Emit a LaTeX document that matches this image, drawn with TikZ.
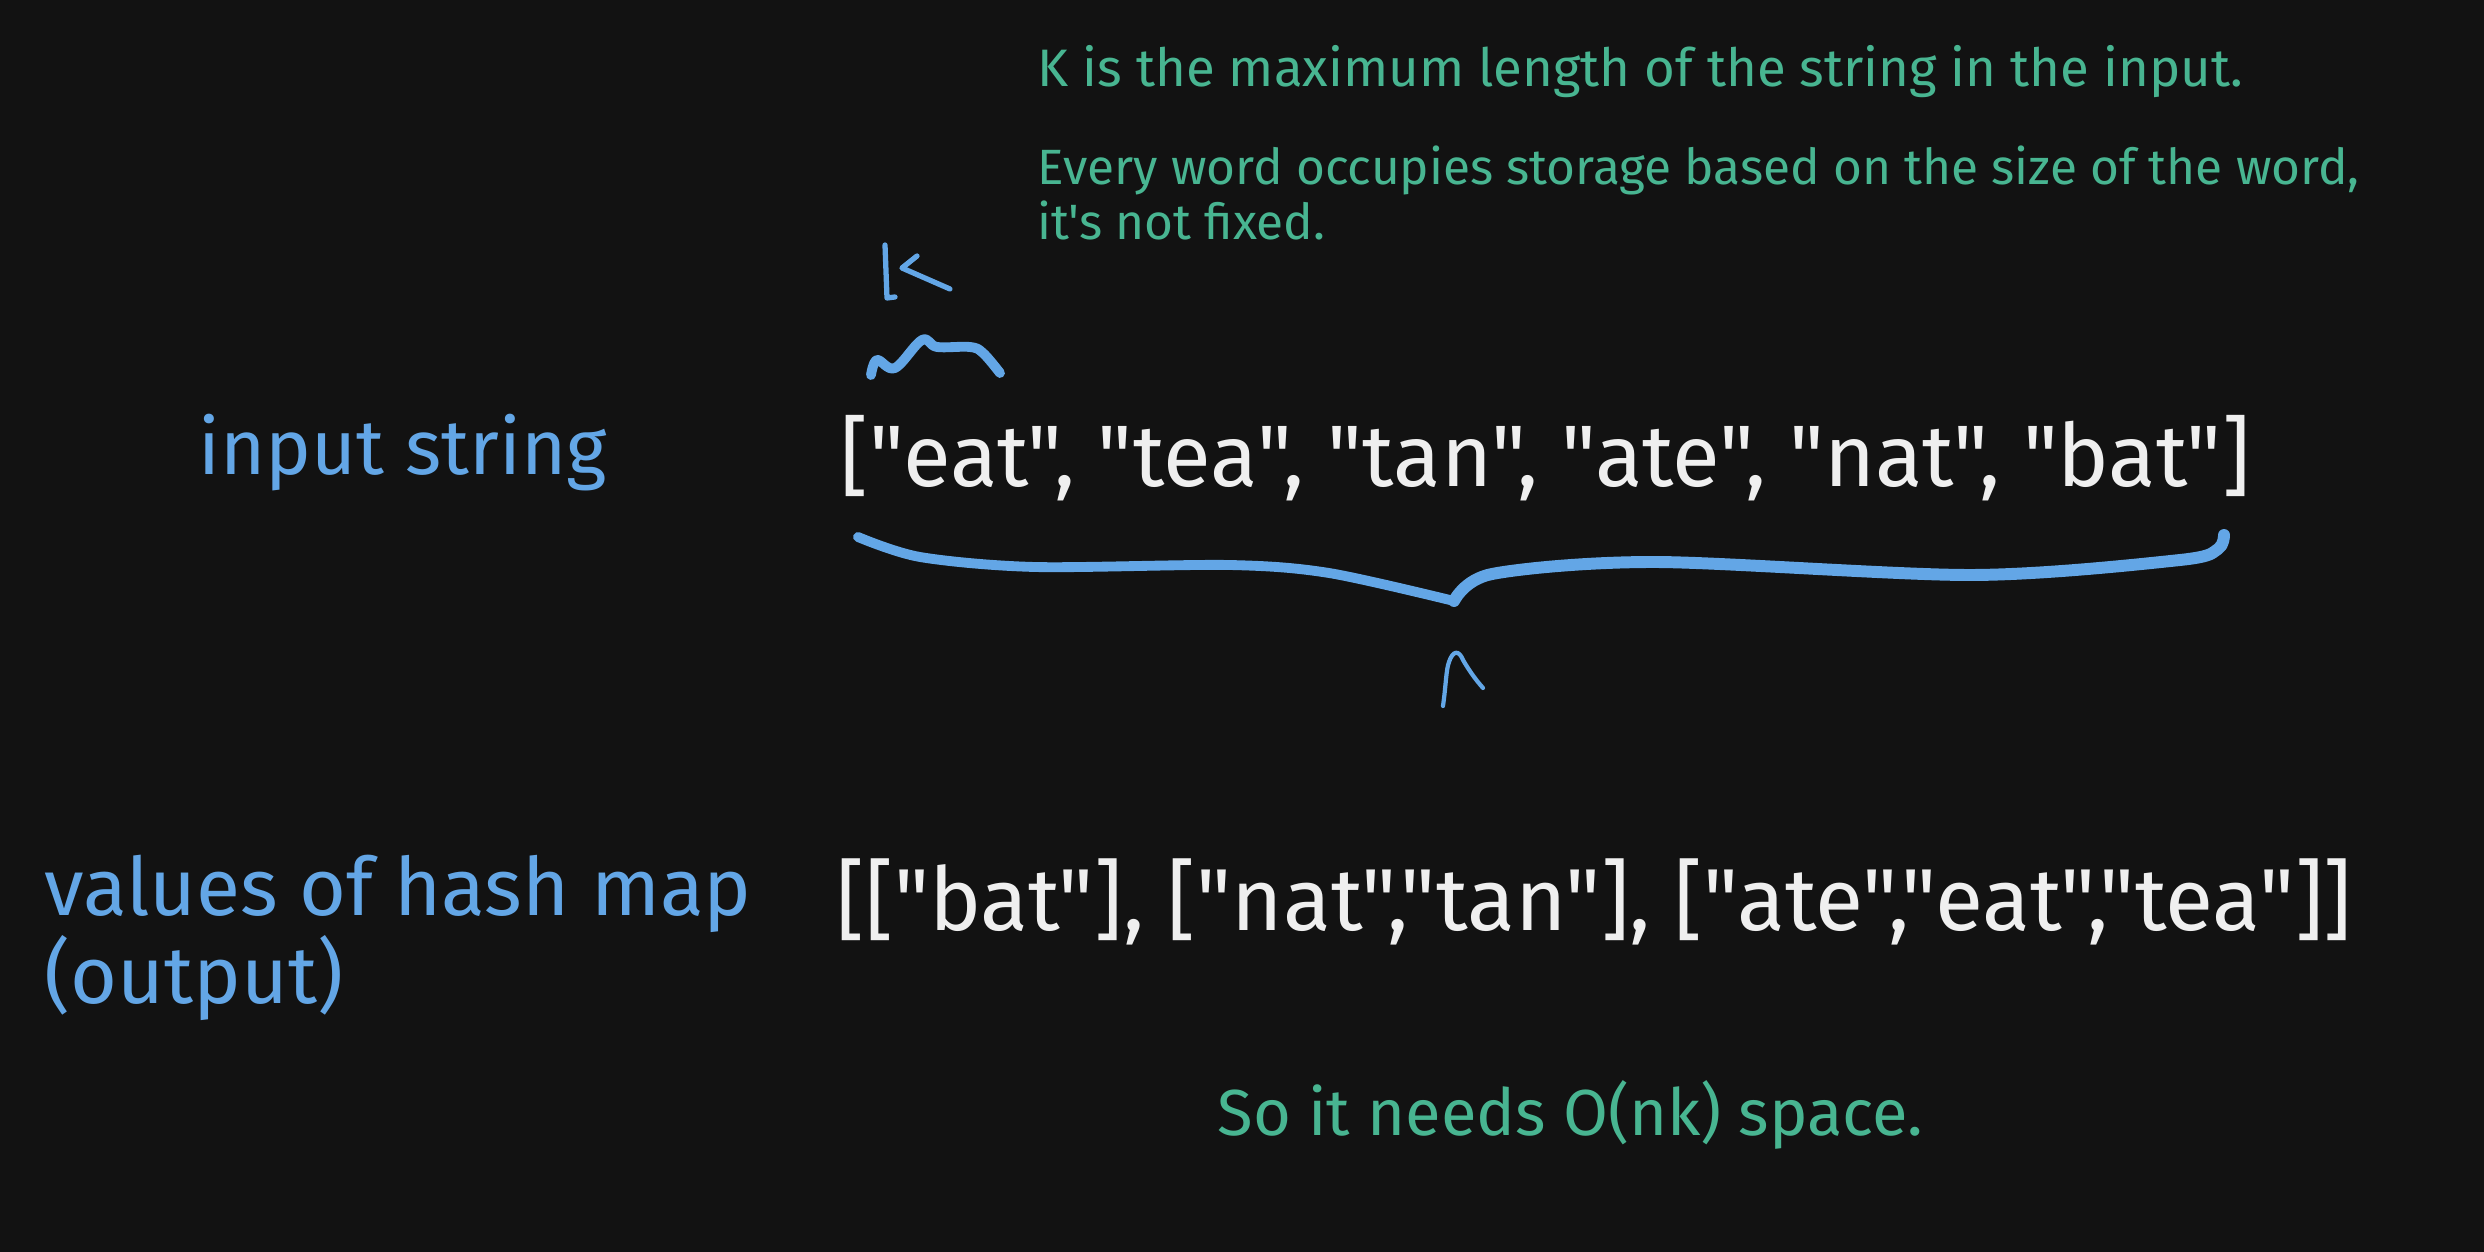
\documentclass[tikz,border=0pt]{standalone}
\usepackage{fontspec}
\setmainfont{Fira Sans}[Ligatures=TeXOff]
\definecolor{bgc}{HTML}{121212}
\definecolor{bluec}{HTML}{63A6E6}
\definecolor{greenc}{HTML}{48B591}
\definecolor{whitec}{HTML}{EFEFEF}
\begin{document}
\begin{tikzpicture}[x=0.01cm,y=-0.01cm,
  note/.style={text=greenc,font=\fontsize{14.5}{17}\selectfont,anchor=base west,inner sep=0pt},
  bluelbl/.style={text=bluec,font=\fontsize{22}{26}\selectfont,anchor=base west,inner sep=0pt},
  arrtxt/.style={text=whitec,font=\fontsize{24.8}{28}\selectfont,anchor=base west,inner sep=0pt},
  stroke/.style={draw=bluec,line cap=round,line join=round}]
\fill[bgc] (0,0) rectangle (2484,1252);
\useasboundingbox (0,0) rectangle (2484,1252);
% notes
\node[note,font=\fontsize{15}{17}\selectfont] (kdef) at (1037,87) {K is the maximum length of the string in the input.};
\node[note,font=\fontsize{14.1}{17}\selectfont] (every) at (1037,185) {Every word occupies storage based on the size of the word,};
\node[note,font=\fontsize{14.1}{17}\selectfont] (fixed) at (1037,240) {it's not fixed.};
% labels
\node[bluelbl] (input) at (198,475) {input string};
\node[arrtxt] (arr) at (840,487) {["eat", "tea", "tan", "ate", "nat", "bat"]};
\node[bluelbl,font=\fontsize{22.9}{26}\selectfont] (values) at (44,915) {values of hash map};
\node[bluelbl,font=\fontsize{22.9}{26}\selectfont] (output) at (44,1003) {(output)};
\node[arrtxt,font=\fontsize{25}{28}\selectfont] (outarr) at (836,930) {[["bat"], ["nat","tan"], ["ate","eat","tea"]]};
\node[note,font=\fontsize{18.5}{21}\selectfont] (space) at (1217,1135) {So it needs O(nk) space.};
% k mark
\draw[stroke,line width=1.5pt] (885,245) -- (887,298) -- (895,297);
\draw[stroke,line width=1.5pt] (917,256) -- (902,268) -- (950,289);
% squiggle
\draw[stroke,line width=2.8pt] plot[smooth,tension=0.6] coordinates {(871,375) (877,360) (895,368) (922,340) (937,347) (970,347) (983,353) (1000,373)};
% brace
\draw[stroke,line width=2.8pt] plot[smooth,tension=0.5] coordinates {(858,537) (920,557) (1035,567) (1229,565) (1329,573) (1454,601)};
\draw[stroke,line width=3.4pt] plot[smooth,tension=0.5] coordinates {(1454,601) (1492,574) (1655,562) (1972,575) (2180,560) (2218,549) (2224,535)};
% n mark
\draw[stroke,line width=1.2pt] (1443,706) .. controls (1446,685) and (1446,670) .. (1449,662) .. controls (1453,650) and (1459,650) .. (1463,660) .. controls (1470,672) and (1476,680) .. (1483,688);
\end{tikzpicture}
\end{document}
